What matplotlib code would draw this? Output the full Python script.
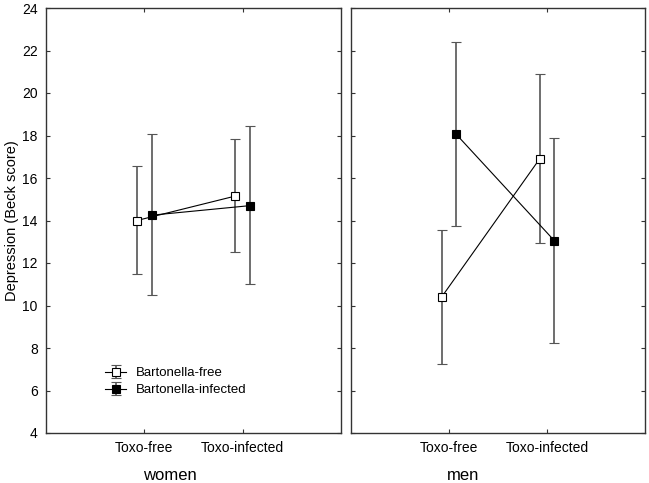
import numpy as np
import matplotlib.pyplot as plt

plt.rcParams['font.family'] = ['Liberation Sans', 'DejaVu Sans']

groups = ["women", "men"]
toxo = ["Toxo-free", "Toxo-infected"]

# means and 95% CI bounds, [Toxo-free, Toxo-infected]
free_mean = {"women": [14.0, 15.15], "men": [10.4, 16.9]}
free_lo = {"women": [11.5, 12.5], "men": [7.25, 12.95]}
free_hi = {"women": [16.55, 17.85], "men": [13.55, 20.9]}

inf_mean = {"women": [14.25, 14.7], "men": [18.05, 13.05]}
inf_lo = {"women": [10.5, 11.0], "men": [13.75, 8.25]}
inf_hi = {"women": [18.05, 18.45], "men": [22.4, 17.9]}

yticks = [4, 6, 8, 10, 12, 14, 16, 18, 20, 22, 24]


def draw(ax, mean, lo, hi, x, face, label):
    mean = np.array(mean)
    err = [mean - np.array(lo), np.array(hi) - mean]
    ax.errorbar(x, mean, yerr=err, fmt='s-', color='black', lw=0.8,
                ecolor='#555555', elinewidth=1.2, capsize=3.3, capthick=1.0,
                ms=6, mfc=face, mec='black', mew=0.8, label=label)


def main():
    fig = plt.figure(figsize=(6.49, 4.83), dpi=100)
    ax1 = fig.add_axes([46 / 649, 50 / 483, 295 / 649, 425 / 483])
    ax2 = fig.add_axes([351 / 649, 50 / 483, 294 / 649, 425 / 483])
    x = np.arange(len(toxo))
    d = 0.075
    for ax, g in zip([ax1, ax2], groups):
        draw(ax, free_mean[g], free_lo[g], free_hi[g], x - d, 'white', "Bartonella-free")
        draw(ax, inf_mean[g], inf_lo[g], inf_hi[g], x + d, 'black', "Bartonella-infected")
        ax.set_xlim(-1, 2)
        ax.set_ylim(4, 24)
        ax.set_xticks(x)
        ax.set_xticklabels(toxo, fontsize=10)
        ax.set_yticks(yticks)
        ax.tick_params(direction='in', length=3, width=0.8, color='#333333',
                       top=True, right=True, labelsize=10, pad=6)
        for s in ax.spines.values():
            s.set_color('#333333')
            s.set_linewidth(1.0)
    ax2.set_yticklabels([])
    ax1.set_ylabel("Depression (Beck score)", fontsize=10.5, labelpad=2)
    ax1.text(0.42, -0.1, "women", transform=ax1.transAxes, ha='center', va='center', fontsize=12)
    ax2.text(0.38, -0.1, "men", transform=ax2.transAxes, ha='center', va='center', fontsize=12)
    ax1.legend(loc='lower left', bbox_to_anchor=(0.17, 0.065), frameon=False, fontsize=9.5,
               handlelength=1.6, handletextpad=0.7, labelspacing=0.35, borderpad=0.2)
    fig.savefig("out.png", dpi=100)


if __name__ == "__main__":
    main()
